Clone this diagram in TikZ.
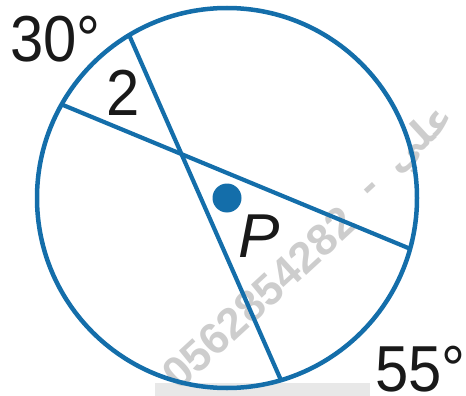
\documentclass[tikz,border=0pt]{standalone}
\usepackage{fontspec}
\usetikzlibrary{calc}
\setmainfont{Liberation Sans}
\newfontfamily\lblfont[FakeStretch=0.92]{Liberation Sans}
\newfontfamily\arabicfont[Script=Arabic]{DejaVu Sans}
\TeXXeTstate=1
\definecolor{cblue}{RGB}{20,110,170}
\definecolor{wmgray}{RGB}{205,205,205}
\begin{document}
\begin{tikzpicture}[x=1pt,y=-1pt,
  rim/.style={draw=cblue,line width=4.5pt},
  chord/.style={draw=cblue,line width=4.2pt,line cap=butt},
  lbl/.style={inner sep=0pt,text=black!90,font=\lblfont\fontsize{65}{70}\selectfont},
  wm/.style={inner sep=0pt,text=wmgray,rotate=42.6}]
\useasboundingbox (0,0) rectangle (466,396);
% watermark background bar
\fill[black!9] (155,383) rectangle (370,396);
% watermark text
\node[wm,font=\fontsize{44}{48}\selectfont\bfseries] (wmnum) at (259,298) {0562854282};
\node[wm,font=\fontsize{44}{48}\selectfont\bfseries] (wmdash) at (373,191) {-};
\node[wm,font=\arabicfont\fontsize{38}{44}\selectfont\bfseries] (wmname) at (420,140) {\beginR علي\endR};
% geometry
\coordinate (O) at (227,198);
\coordinate (A) at ($(O)+(-121:190)$);
\coordinate (C) at ($(O)+(-150.5:190)$);
\coordinate (D) at ($(O)+(15.5:190)$);
\coordinate (B) at ($(O)+(73.5:190)$);
\draw[chord] (A) -- (B);
\draw[chord] (C) -- (D);
\draw[rim] (O) circle[radius=190pt];
\fill[cblue] (O) circle[radius=14.5pt];
% labels
\node[lbl,anchor=base west] (l30) at (10,62) {30°};
\node[lbl,anchor=base] (l2) at (123.5,115) {2};
\node[lbl,anchor=base west] (l55) at (375,391) {55°};
\node[lbl,anchor=base west,font=\fontsize{62}{68}\selectfont\itshape] (lP) at (238,257) {P};
\end{tikzpicture}
\end{document}
